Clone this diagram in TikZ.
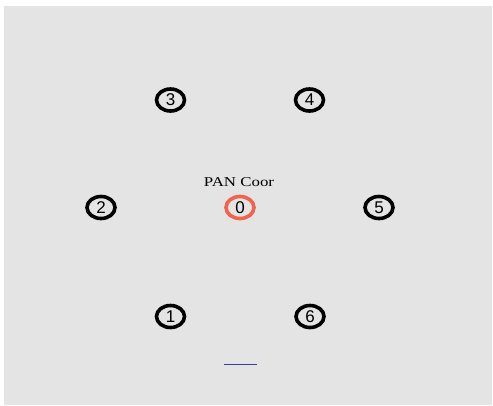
\documentclass[tikz,border=0pt]{standalone}
\usepackage{fontspec}
\setmainfont{Liberation Serif}
\setsansfont{Liberation Sans}
\usepackage{tikz}
\usetikzlibrary{shapes.geometric}
\definecolor{bggrey}{RGB}{228,228,228}
\definecolor{coorred}{RGB}{240,100,75}
\definecolor{lineblue}{RGB}{60,60,170}

\tikzset{
  mote/.style={ellipse,draw=black,line width=3.6pt,minimum width=28pt,minimum height=22pt,
    inner sep=0pt,font=\sffamily\fontsize{17}{17}\selectfont},
  coor/.style={mote,draw=coorred}
}

\begin{document}
\begin{tikzpicture}[x=1pt,y=-1pt]
  % background
  \useasboundingbox (0,0) rectangle (493,405);
  \fill[bggrey](4,6) rectangle (492,405);
  % motes
  \node[mote] (n3) at (170.5,100) {3};
  \node[mote] (n4) at (309.5,100) {4};
  \node[mote] (n2) at (101,207.5) {2};
  \node[coor] (n0) at (240,207.5) {0};
  \node[mote] (n5) at (379,207.5) {5};
  \node[mote] (n1) at (170.5,316.5) {1};
  \node[mote] (n6) at (310,316.5) {6};
  \node[font=\fontsize{13.5}{13.5}\selectfont] (pan) at (239,182)
    {\scalebox{1.25}[1]{PAN Coor}};
  % link
  \coordinate (la) at (224,364.5);
  \coordinate (lb) at (257,364.5);
  \draw[lineblue,line width=1.4pt](la)--(lb);
\end{tikzpicture}
\end{document}
